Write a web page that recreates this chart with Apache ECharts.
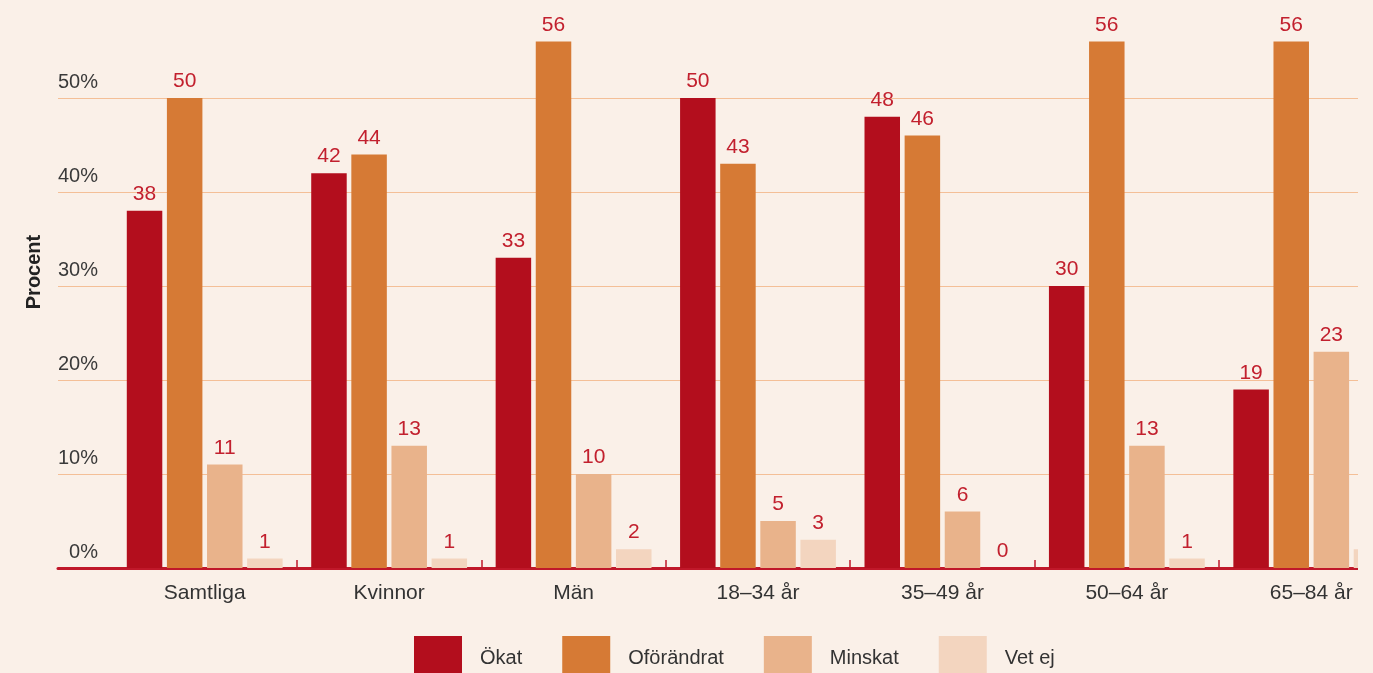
<!DOCTYPE html>
<html>
<head>
<meta charset="utf-8">
<script src="https://cdn.jsdelivr.net/npm/echarts@6/dist/echarts.min.js"></script>
<style>
    html, body {
        margin: 0;
        padding: 0;
        background: #faf0e8;
    }
    .wrap {
        width: 1358px;
        height: 673px;
        overflow: hidden;
    }
    #chart {
        width: 1410px;
        height: 673px;
    }
</style>
</head>
<body>
<div class="wrap">
    <div id="chart"></div>
</div>
<script>
// kategorier och andelar (procent)
const categories = ['Samtliga', 'Kvinnor', 'Män', '18–34 år', '35–49 år', '50–64 år', '65–84 år']
const okat = [38, 42, 33, 50, 48, 30, 19]
const oforandrat = [50, 44, 56, 43, 46, 56, 56]
const minskat = [11, 13, 10, 5, 6, 13, 23]
const vetEj = [1, 1, 2, 3, 0, 1, 2]
const seriesNames = ['Ökat', 'Oförändrat', 'Minskat', 'Vet ej']
const seriesColors = ['#b30e1d', '#d67a35', '#e9b38b', '#f3d5bf']

const font = 'Liberation Sans, Arial, sans-serif'
const chart = echarts.init(document.getElementById('chart'))

const barSeries = [okat, oforandrat, minskat, vetEj].map((data, i) => ({
    name: seriesNames[i],
    type: 'bar',
    xAxisIndex: 1,
    yAxisIndex: 1,
    data: data,
    barWidth: 35.5,
    barGap: '13%',
    itemStyle: { color: seriesColors[i] },
    label: {
        show: true,
        position: 'top',
        distance: 6,
        color: '#c2202e',
        fontSize: 21,
        fontFamily: font
    }
}))

const option = {
    backgroundColor: '#faf0e8',
    animation: false,
    color: seriesColors,
    grid: [
        // rutnät + y-axel (slutar vid 1358)
        { left: 58, right: 52, top: 98, bottom: 105 },
        // staplar (sista gruppen klipps i högerkanten)
        { left: 112.5, width: 1291, top: 4, bottom: 105 }
    ],
    xAxis: [
        {
            type: 'value',
            gridIndex: 0,
            min: 0,
            max: 1,
            axisLine: { show: true, lineStyle: { color: '#c0182a', width: 3 } },
            axisTick: { show: false },
            axisLabel: { show: false },
            splitLine: { show: false }
        },
        {
            type: 'category',
            gridIndex: 1,
            data: categories,
            axisLine: { show: false },
            axisTick: {
                show: true,
                inside: true,
                length: 8,
                interval: (i) => i !== 0,
                lineStyle: { color: '#c0182a', width: 1.5 }
            },
            axisLabel: {
                color: '#333',
                fontSize: 21,
                fontFamily: font,
                margin: 15,
                interval: 0
            }
        }
    ],
    yAxis: [
        {
            type: 'value',
            gridIndex: 0,
            min: 0,
            max: 50,
            interval: 10,
            axisLine: { show: false },
            axisTick: { show: false },
            axisLabel: {
                inside: true,
                align: 'right',
                margin: 40,
                verticalAlign: 'bottom',
                padding: [0, 0, 6, 0],
                color: '#3a3a3a',
                fontSize: 20,
                fontFamily: font,
                formatter: '{value}%'
            },
            splitLine: { lineStyle: { color: '#f4bf97', width: 1 } }
        },
        {
            type: 'value',
            gridIndex: 1,
            min: 0,
            max: 60,
            show: false
        }
    ],
    legend: {
        left: 414,
        top: 636,
        padding: 0,
        itemWidth: 48,
        itemHeight: 44,
        itemGap: 40,
        icon: 'rect',
        data: seriesNames,
        textStyle: {
            color: '#333',
            fontSize: 20,
            fontFamily: font,
            padding: [0, 0, 0, 13]
        }
    },
    graphic: [
        {
            type: 'text',
            x: 34,
            y: 272,
            rotation: Math.PI / 2,
            style: {
                text: 'Procent',
                fill: '#222',
                font: 'bold 20px ' + font,
                align: 'center',
                verticalAlign: 'middle'
            }
        }
    ],
    series: barSeries
}

chart.setOption(option)
</script>
</body>
</html>
